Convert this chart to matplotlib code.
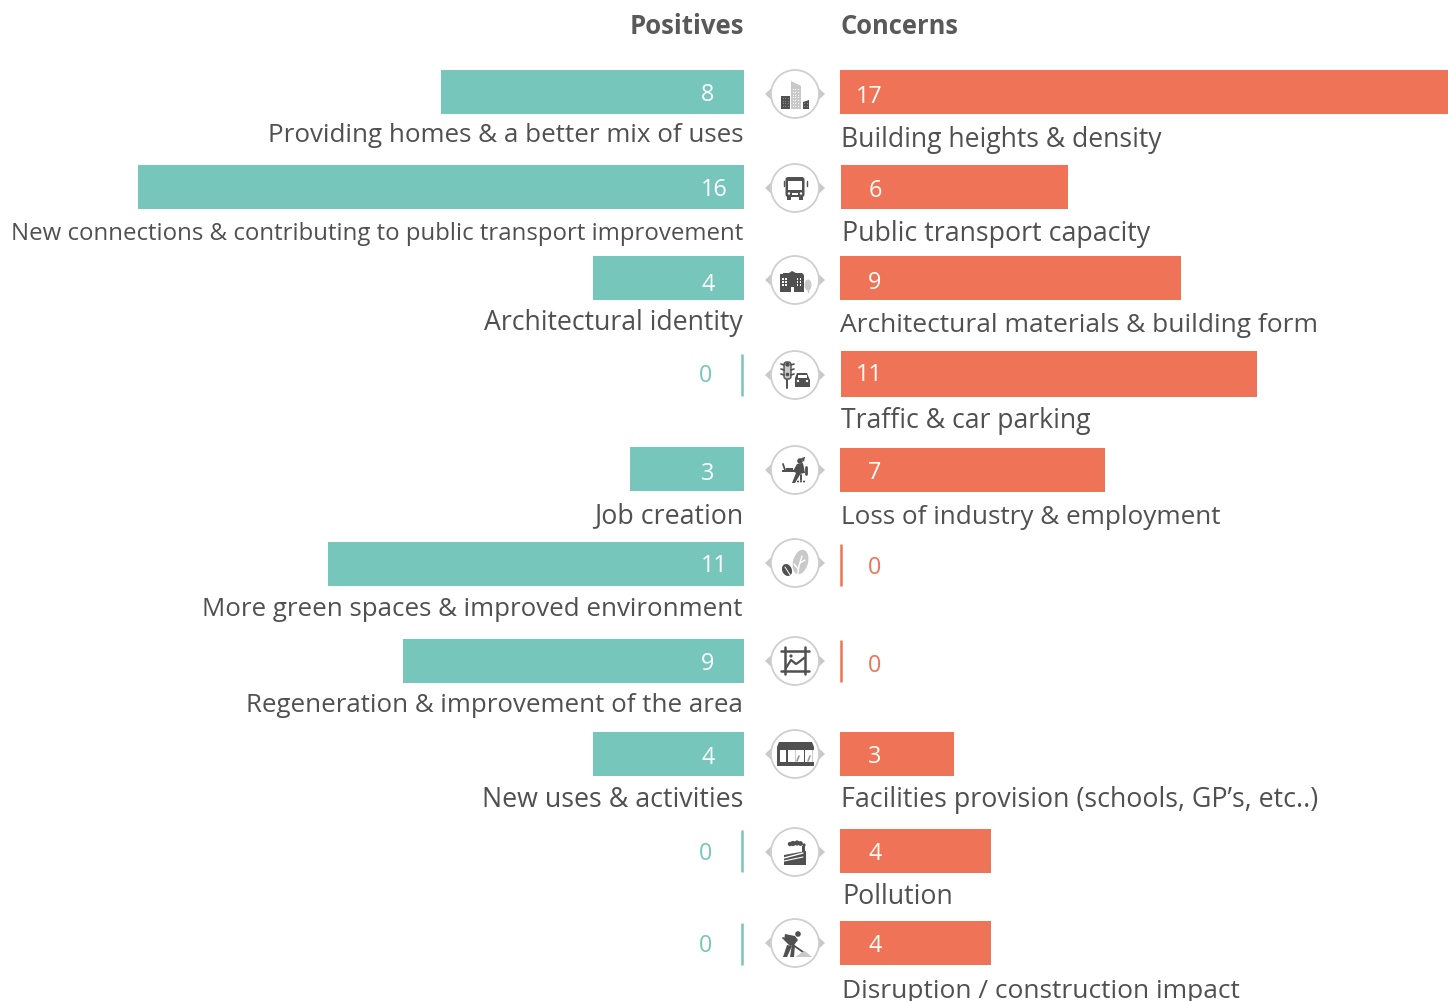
import matplotlib
matplotlib.use("Agg")
import matplotlib.pyplot as plt
from matplotlib.patches import Circle, Polygon, Rectangle, Ellipse, FancyBboxPatch

# Survey responses per theme
positive_labels = ["Providing homes & a better mix of uses",
                   "New connections & contributing to public transport improvement",
                   "Architectural identity", "", "Job creation",
                   "More green spaces & improved environment",
                   "Regeneration & improvement of the area",
                   "New uses & activities", "", ""]
positive_values = [8, 16, 4, 0, 3, 11, 9, 4, 0, 0]
concern_labels = ["Building heights & density", "Public transport capacity",
                  "Architectural materials & building form", "Traffic & car parking",
                  "Loss of industry & employment", "", "",
                  "Facilities provision (schools, GP\u2019s, etc..)", "Pollution",
                  "Disruption / construction impact"]
concern_values = [17, 6, 9, 11, 7, 0, 0, 3, 4, 4]

# Layout, in pixels from the top left of the figure
W, H = 1448, 1001
UNIT = 37.85
POS_X, CON_X = 744, 840
ICON_X = 795
pos_bar_y = [92, 187, 278, 375, 469, 564, 661, 754, 851, 944]
con_bar_y = [92, 187, 278, 374, 470, 565, 661, 754, 851, 943]
con_start = [840, 841, 840, 841, 840, 841, 841, 840, 840, 840]
pos_val_y = [95, 190, 285, 376, 474, 566, 664, 758, 854, 946]
con_val_y = [97, 191, 283, 375, 473, 568, 666, 757, 854, 946]
pos_lab_y = [135, 234, 323, 0, 516, 609, 706, 800, 0, 0]
con_lab_y = [140, 234, 326, 421, 518, 0, 0, 800, 897, 991]
con_lab_x = [841, 842, 840, 841, 841, 0, 0, 841, 842, 842]
icon_y = [94, 188, 280, 375, 470, 563, 661, 754, 852, 943]
pos_lab_size = [18.7, 17.3, 19.2, 18.6, 19.3, 18.6, 18.6, 19.3, 18.6, 18.6]
con_lab_size = [19.1, 19.3, 19.0, 19.2, 18.8, 18.6, 18.6, 19.3, 19.3, 19.0]

TEAL, ORANGE = "#76C6BB", "#EF7357"
INK, PALE, RING = "#505050", "#C9C9C9", "#CFCFCF"
FONT = "Open Sans"
VALUE_SIZE = 16.8

fig = plt.figure(figsize=(W / 100, H / 100), dpi=100, facecolor="white")
ax = fig.add_axes([0, 0, 1, 1])
ax.set_xlim(0, W)
ax.set_ylim(H, 0)
ax.axis("off")

# Bars, value labels and captions for both sides
for i in range(10):
    pv, cv = positive_values[i], concern_values[i]
    if pv:
        ax.barh(pos_bar_y[i], -pv * UNIT, left=POS_X, height=44, color=TEAL)
        vx = 714 if pv >= 10 else 708
        ax.text(vx, pos_val_y[i], str(pv), color="white", ha="center", va="center",
                family=FONT, fontsize=VALUE_SIZE)
    else:
        ax.vlines(POS_X - 2, pos_bar_y[i] - 21, pos_bar_y[i] + 21, color=TEAL, lw=1.8)
        ax.text(706, pos_val_y[i], "0", color=TEAL, ha="center", va="center",
                family=FONT, fontsize=VALUE_SIZE)
    if cv:
        h = 46 if i == 3 else 44
        ax.barh(con_bar_y[i], cv * UNIT, left=con_start[i], height=h, color=ORANGE)
        vx = 869 if cv >= 10 else 875
        ax.text(vx, con_val_y[i], str(cv), color="white", ha="center", va="center",
                family=FONT, fontsize=VALUE_SIZE)
    else:
        ax.vlines(CON_X + 1, con_bar_y[i] - 21, con_bar_y[i] + 21, color=ORANGE, lw=1.8)
        ax.text(875, con_val_y[i], "0", color=ORANGE, ha="center", va="center",
                family=FONT, fontsize=VALUE_SIZE)
    if positive_labels[i]:
        ax.text(743, pos_lab_y[i], positive_labels[i], color=INK, ha="right", va="center",
                family=FONT, fontsize=pos_lab_size[i])
    if concern_labels[i]:
        ax.text(con_lab_x[i], con_lab_y[i], concern_labels[i], color=INK, ha="left",
                va="center", family=FONT, fontsize=con_lab_size[i])

ax.text(744, 27, "Positives", color="#595959", ha="right", va="center", family=FONT,
        fontsize=18.5, fontweight="bold")
ax.text(840, 27, "Concerns", color="#595959", ha="left", va="center", family=FONT,
        fontsize=18.4, fontweight="bold")


def rect(cx, cy, x0, y0, x1, y1, color=INK, z=5):
    ax.add_patch(Rectangle((cx + x0, cy + y0), x1 - x0, y1 - y0, fc=color, ec="none", zorder=z))


def poly(cx, cy, pts, color=INK, z=5):
    ax.add_patch(Polygon([(cx + x, cy + y) for x, y in pts], closed=True, fc=color, ec="none", zorder=z))


def disc(cx, cy, x, y, r, color=INK, z=5):
    ax.add_patch(Circle((cx + x, cy + y), r, fc=color, ec="none", zorder=z))


def seg(cx, cy, x0, y0, x1, y1, color=INK, lw=1.5, z=5):
    ax.plot([cx + x0, cx + x1], [cy + y0, cy + y1], color=color, lw=lw, zorder=z,
            solid_capstyle="round")


def windows(cx, cy, x0, y0, nx, ny, step=2.4, color="white", size=1.1):
    for a in range(nx):
        for b in range(ny):
            rect(cx, cy, x0 + a * step, y0 + b * step, x0 + a * step + size, y0 + b * step + size, color, 6)


def icon_towers(cx, cy):
    rect(cx, cy, -14, 2, -5, 15)
    windows(cx, cy, -12.5, 4, 3, 4, 2.6, "#8a8a8a")
    poly(cx, cy, [(-4, -13), (6, -8), (6, 15), (-4, 15)], PALE)
    windows(cx, cy, -2.5, -5, 3, 7, 2.8)
    poly(cx, cy, [(8, 8), (14, 6), (14, 15), (8, 15)])
    windows(cx, cy, 9, 9, 2, 2, 2.6, "#8a8a8a")


def icon_bus(cx, cy):
    ax.add_patch(FancyBboxPatch((cx - 9.5, cy - 11), 19, 20, boxstyle="round,pad=0,rounding_size=2.5",
                                fc=INK, ec="none", zorder=5))
    rect(cx, cy, -7, -7.5, 7, 2, "white", 6)
    rect(cx, cy, -8, 8, -4, 12)
    rect(cx, cy, 4, 8, 8, 12)
    rect(cx, cy, -3, 4.5, 3, 6.5, "white", 6)
    disc(cx, cy, -6, 5.5, 1.2, "white", 6)
    disc(cx, cy, 6, 5.5, 1.2, "white", 6)
    seg(cx, cy, -11.5, -7, -11.5, -2, lw=1)
    seg(cx, cy, 11.5, -7, 11.5, -2, lw=1)


def icon_hall(cx, cy):
    poly(cx, cy, [(-15, -6), (-12, -6), (-12, -7), (-6, -7), (-3, -9), (1, -7), (7, -7),
                  (9, -5), (9, 12), (-15, 12)])
    windows(cx, cy, -13, -2, 2, 3, 3.2, "white", 1.7)
    windows(cx, cy, 1.5, -2, 2, 3, 3.2, "white", 1.7)
    rect(cx, cy, -4, 7, -1, 12, "white", 6)
    ax.add_patch(Ellipse((cx + 13, cy + 5), 7, 11, fc=PALE, ec="none", zorder=5))
    seg(cx, cy, 13, 7, 13, 12, PALE, 1)


def icon_traffic(cx, cy):
    seg(cx, cy, -8, 3, -8, 12.5, lw=1.4)
    ax.add_patch(FancyBboxPatch((cx - 11, cy - 13), 7, 17, boxstyle="round,pad=0,rounding_size=2.5",
                                fc=PALE, ec=INK, lw=1, zorder=5))
    disc(cx, cy, -7.5, -10.5, 2.2)
    disc(cx, cy, -7.5, -5.5, 2.2, PALE, 6)
    disc(cx, cy, -7.5, -0.5, 1.8)
    for dy in (-10, -5, 0):
        seg(cx, cy, -14, dy - 1, -11, dy, lw=1.2)
        seg(cx, cy, -1, dy - 1, -4, dy, lw=1.2)
    poly(cx, cy, [(0, 3), (2, -2), (12, -2), (14, 3), (15, 5), (15, 12), (0, 12)])
    rect(cx, cy, 2.5, -0.5, 12, 3, "white", 6)
    disc(cx, cy, 3, 6, 1.2, "white", 6)
    disc(cx, cy, 12, 6, 1.2, "white", 6)


def icon_worker(cx, cy):
    rect(cx, cy, -13, 0, 7, 2.2)
    seg(cx, cy, -12, -6, -10, 0, lw=1.3)
    rect(cx, cy, -9, -2.5, -2, 0)
    disc(cx, cy, 5, -9, 2.8)
    poly(cx, cy, [(6, -12), (10, -13), (9, -8)])
    poly(cx, cy, [(2, -6), (8, -7), (10, 3), (4, 4), (1, 3), (-2, 1)])
    poly(cx, cy, [(1, 3), (6, 3), (0, 13), (-3, 13)])
    seg(cx, cy, 11, -3, 11, 4, lw=2)
    seg(cx, cy, 6, 5, 6, 10, lw=1.4)
    for x in (3, 6, 9):
        disc(cx, cy, x, 11.5, 1)


def icon_leaf(cx, cy):
    ax.add_patch(Ellipse((cx + 5.5, cy - 1), 15, 25, angle=15, fc=PALE, ec="none", zorder=5))
    seg(cx, cy, 2, 16, 4, 3, "white", 1, 6)
    seg(cx, cy, 4, 3, 7, -7, "white", 1, 6)
    seg(cx, cy, 5, 0, 10, -3, "white", 1, 6)
    seg(cx, cy, 3, 6, -1, 1, "white", 1, 6)
    ax.add_patch(Ellipse((cx - 8, cy + 7), 9.5, 12.5, angle=-25, fc=INK, ec="none", zorder=5))
    seg(cx, cy, -10, 4, -3, 15, "white", 0.7, 6)


def icon_frame(cx, cy):
    for x in (-10, 10):
        seg(cx, cy, x, -14, x, 13, lw=1.8)
    for y in (-10, 10):
        seg(cx, cy, -14, y, 14, y, lw=1.8)
    ax.plot([cx - 9, cx - 4, cx + 1, cx + 4, cx + 9], [cy + 7, cy - 1, cy + 3, cy + 1, cy - 3],
            color=INK, lw=1.6, zorder=5)
    disc(cx, cy, -4, -5, 1.6)


def icon_shop(cx, cy):
    poly(cx, cy, [(-18, -7), (-16, -12), (17, -12), (19, -7), (19, -4), (-18, -4)])
    rect(cx, cy, -18, 8, 19, 12)
    for x0, x1 in ((-18, -15), (-9, -7), (9, 10)):
        rect(cx, cy, x0, -4, x1, 8)
    rect(cx, cy, 0, -4, 1.2, 8, PALE)
    rect(cx, cy, 16.5, -4, 18, 8, PALE)
    seg(cx, cy, 2, 7, 4, 2, "#9a9a9a", 1.2)
    seg(cx, cy, 13, 7, 15, 2, "#9a9a9a", 1.2)


def icon_factory(cx, cy):
    poly(cx, cy, [(-11, 3), (11, -1), (11, 13), (-11, 13)])
    seg(cx, cy, -11, 6, 8, 1, "white", 1, 6)
    seg(cx, cy, -11, 9, 8, 5, "white", 0.8, 6)
    rect(cx, cy, 7, -6, 10, 2)
    for x, y, r in ((-5, -8, 2.2), (-2, -8.5, 2.6), (2, -9, 2.6), (5.5, -8.5, 2.4), (9, -7, 1.6)):
        disc(cx, cy, x, y, r)


def icon_digger(cx, cy):
    disc(cx, cy, 3, -9, 2.8)
    poly(cx, cy, [(-10, -9), (0, -7), (3, -3), (-1, 2), (-5, 3), (-11, -3)])
    poly(cx, cy, [(-8, 2), (-3, 3), (-8, 14), (-12, 14)])
    poly(cx, cy, [(-3, 1), (0, 2), (-1, 14), (-5, 14)])
    seg(cx, cy, -12, -5, 8, 9, lw=1.3)
    poly(cx, cy, [(0, 14), (6, 10), (10, 8), (17, 14)], PALE)


drawers = [icon_towers, icon_bus, icon_hall, icon_traffic, icon_worker,
           icon_leaf, icon_frame, icon_shop, icon_factory, icon_digger]

# Central column of ringed pictograms with their small side arrows
for y, draw in zip(icon_y, drawers):
    poly(ICON_X, y, [(-30, 0), (-23, -6.5), (-23, 6.5)], PALE, 2)
    poly(ICON_X, y, [(30, 0), (23, -6.5), (23, 6.5)], PALE, 2)
    ax.add_patch(Circle((ICON_X, y), 24, fc="white", ec=RING, lw=1.3, zorder=3))
    draw(ICON_X, y)

fig.savefig("out.png", dpi=100)
